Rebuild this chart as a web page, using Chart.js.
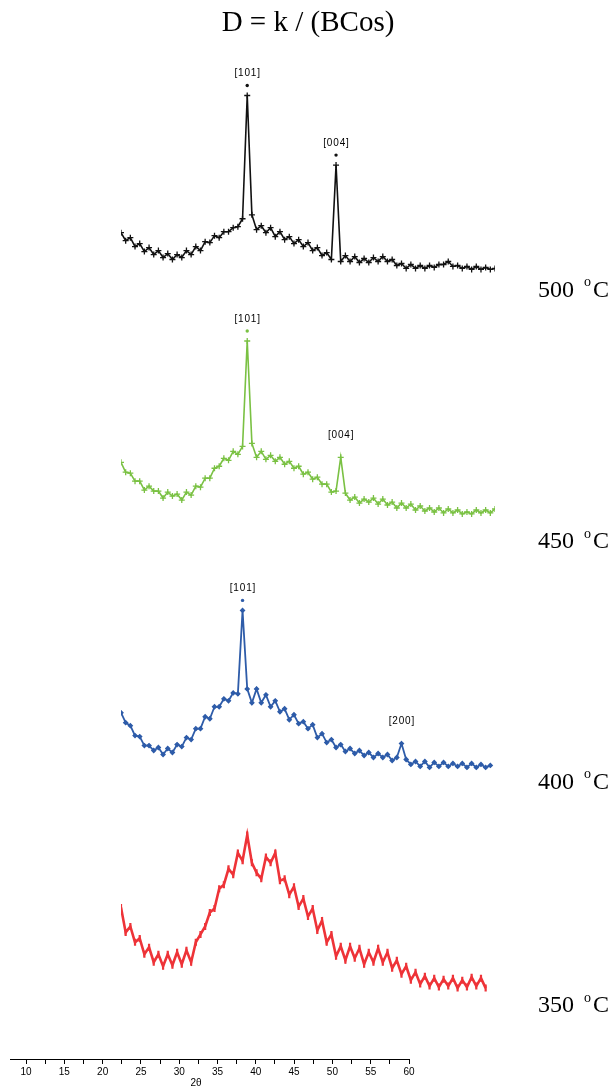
<!DOCTYPE html>
<html>
<head>
<meta charset="utf-8">
<title>XRD patterns</title>
<script src="https://cdn.jsdelivr.net/npm/chart.js@4.4.1/dist/chart.umd.min.js"></script>
<style>
    html, body { margin: 0; padding: 0; background: #ffffff; }
    #page { position: relative; width: 614px; height: 1087px; }
    #xrdWrap { position: absolute; left: 0; top: 0; width: 614px; height: 1040px; }
    #axisWrap { position: absolute; left: 0; top: 1040px; width: 614px; height: 47px; }
</style>
</head>
<body>
<div id="page">
    <div id="xrdWrap"><canvas id="xrdChart"></canvas></div>
    <div id="axisWrap"><canvas id="axisChart"></canvas></div>
</div>
<script>
// 2-theta positions shared by all four scans (degrees).
var angles = [
    20, 20.5, 21, 21.5, 22, 22.5, 23, 23.5, 24, 24.5,
    25, 25.5, 26, 26.5, 27, 27.5, 28, 28.5, 29, 29.5,
    30, 30.5, 31, 31.5, 32, 32.5, 33, 33.5, 34, 34.5,
    35, 35.5, 36, 36.5, 37, 37.5, 38, 38.5, 39, 39.5,
    40, 40.5, 41, 41.5, 42, 42.5, 43, 43.5, 44, 44.5,
    45, 45.5, 46, 46.5, 47, 47.5, 48, 48.5, 49, 49.5,
    50, 50.5, 51, 51.5, 52, 52.5, 53, 53.5, 54, 54.5,
    55, 55.5, 56, 56.5, 57, 57.5, 58, 58.5, 59, 59.5,
    60
];

// Intensities (a.u.), one array per annealing temperature.
var counts500 = [
    38, 30, 33, 24, 27, 19, 23, 16, 20, 13,
    17, 11, 16, 13, 20, 16, 24, 20, 29, 28,
    35, 33, 39, 39, 43, 44, 52, 176, 56, 41,
    45, 38, 43, 34, 39, 31, 34, 27, 31, 24,
    28, 20, 23, 15, 18, 11, 106, 9, 15, 9,
    14, 8, 12, 8, 13, 9, 14, 9, 11, 5,
    7, 2, 6, 2, 5, 2, 5, 3, 6, 6,
    9, 4, 5, 2, 4, 1, 4, 1, 3, 1,
    2
];
var counts450 = [
    53, 43, 42, 34, 34, 25, 29, 24, 24, 17,
    23, 19, 21, 15, 23, 20, 29, 28, 37, 37,
    47, 49, 57, 55, 64, 61, 69, 175, 72, 58,
    64, 56, 60, 54, 58, 51, 54, 47, 49, 41,
    43, 36, 38, 31, 31, 23, 24, 58, 22, 15,
    18, 12, 16, 13, 17, 11, 16, 10, 13, 7,
    12, 7, 11, 5, 9, 4, 7, 3, 7, 2,
    6, 2, 5, 1, 3, 1, 5, 2, 5, 2,
    6
];
var counts400 = [
    56, 46, 43, 33, 32, 23, 23, 18, 21, 14,
    20, 16, 24, 22, 31, 29, 40, 40, 52, 50,
    62, 62, 70, 68, 76, 75, 159, 80, 66, 80,
    66, 74, 62, 68, 57, 60, 49, 54, 45, 47,
    40, 44, 31, 35, 26, 29, 21, 24, 17, 20,
    15, 18, 13, 16, 11, 15, 11, 14, 8, 11,
    25, 9, 4, 7, 2, 7, 1, 6, 2, 6,
    2, 5, 2, 5, 1, 5, 1, 4, 1, 3,
    null
];
var counts350 = [
    85, 60, 66, 50, 54, 38, 45, 30, 38, 26,
    38, 27, 40, 28, 42, 30, 50, 58, 66, 80,
    84, 104, 108, 124, 118, 140, 132, 158, 130, 120,
    114, 136, 130, 140, 112, 114, 98, 106, 86, 94,
    76, 84, 62, 72, 50, 58, 36, 46, 32, 46,
    34, 44, 28, 40, 30, 44, 30, 40, 24, 32,
    18, 26, 12, 20, 8, 16, 6, 14, 5, 13,
    6, 14, 4, 12, 5, 15, 6, 14, 4, null,
    null
];

var temperatures = ["500", "450", "400", "350"];
var seriesCounts = [counts500, counts450, counts400, counts350];
var seriesColors = ["#111111", "#7ac143", "#2e5ca9", "#ee3338"];
// Vertical stacking of the scans (a.u. added to each curve).
var seriesOffsets = [768, 522, 267, 42];

// Reflection labels: series index, 2-theta of the peak, label, dot above peak.
var peakSeries = [0, 0, 1, 1, 2, 2];
var peakAngles = [33.5, 43, 33.5, 43.5, 33, 50];
var peakNames = ["[101]", "[004]", "[101]", "[004]", "[101]", "[200]"];
var peakDots = [true, true, true, false, true, false];

// Bottom 2-theta axis ticks.
var axisTicks = [10, 12.5, 15, 17.5, 20, 22.5, 25, 27.5, 30, 32.5, 35, 37.5,
    40, 42.5, 45, 47.5, 50, 52.5, 55, 57.5, 60];

function buildPoints(counts, offset) {
    return angles.map(function (a, i) {
        return { x: a, y: counts[i] === null ? null : counts[i] + offset };
    });
}

var pointStyles = ["cross", "cross", "rectRot", "line"];
var pointSizes = [3, 3, 2, 3.5];
var lineWidths = [1.6, 1.6, 1.8, 2.6];

var datasets = seriesCounts.map(function (counts, i) {
    return {
        label: temperatures[i] + " °C",
        data: buildPoints(counts, seriesOffsets[i]),
        borderColor: seriesColors[i],
        backgroundColor: seriesColors[i],
        borderWidth: lineWidths[i],
        pointStyle: pointStyles[i],
        pointRadius: pointSizes[i],
        pointRotation: i === 3 ? 90 : 0,
        pointBorderWidth: i === 3 ? 2.2 : 1.3,
        pointBorderColor: seriesColors[i],
        pointBackgroundColor: seriesColors[i],
        tension: 0,
        spanGaps: false
    };
});

// Draws the reflection labels and the temperature captions.
var captionShift = [20, 27, 14, 14];
var annotationPlugin = {
    id: "xrdAnnotations",
    afterDatasetsDraw: function (chart) {
        var ctx = chart.ctx;
        var xs = chart.scales.x;
        var ys = chart.scales.y;
        ctx.save();
        ctx.textAlign = "center";
        ctx.textBaseline = "middle";
        ctx.font = "10px 'Liberation Sans', Arial, sans-serif";
        peakNames.forEach(function (name, j) {
            var s = peakSeries[j];
            var idx = angles.indexOf(peakAngles[j]);
            var px = xs.getPixelForValue(peakAngles[j]);
            var py = ys.getPixelForValue(seriesCounts[s][idx] + seriesOffsets[s]);
            ctx.fillStyle = "#000000";
            ctx.fillText(name.split("").join(String.fromCharCode(8202)), px, py - 22);
            if (peakDots[j]) {
                ctx.fillStyle = seriesColors[s];
                ctx.beginPath();
                ctx.arc(px, py - 10, 1.7, 0, Math.PI * 2);
                ctx.fill();
            }
        });

        // Temperature captions on the right.
        ctx.fillStyle = "#000000";
        ctx.textAlign = "left";
        temperatures.forEach(function (t, i) {
            var y = ys.getPixelForValue(seriesOffsets[i]) + captionShift[i];
            var x = 538;
            ctx.font = "24px 'Liberation Serif', 'Times New Roman', serif";
            ctx.fillText(t, x, y);
            x += ctx.measureText(t).width + 10;
            ctx.font = "14px 'Liberation Serif', 'Times New Roman', serif";
            ctx.fillText("o", x, y - 8);
            x += ctx.measureText("o").width + 2;
            ctx.font = "24px 'Liberation Serif', 'Times New Roman', serif";
            ctx.fillText("C", x, y);
        });
        ctx.restore();
    }
};

new Chart(document.getElementById("xrdChart"), {
    type: "line",
    data: { datasets: datasets },
    options: {
        animation: false,
        responsive: true,
        maintainAspectRatio: false,
        layout: { padding: { left: 121, right: 119, top: 0, bottom: 0 } },
        plugins: {
            legend: { display: false },
            tooltip: { enabled: false },
            title: {
                display: true,
                text: "D = k / (BCos)",
                color: "#000000",
                font: { family: "'Liberation Serif', 'Times New Roman', serif", size: 29, weight: "normal" },
                padding: { top: 6, bottom: 8 }
            }
        },
        scales: {
            x: { type: "linear", min: 20, max: 60, display: false },
            y: { type: "linear", min: 0, max: 991, display: false }
        }
    },
    plugins: [annotationPlugin]
});

// Axis caption placed under the 2-theta scale.
var axisTitlePlugin = {
    id: "axisTitle",
    afterDraw: function (chart) {
        var ctx = chart.ctx;
        var xs = chart.scales.x;
        ctx.save();
        ctx.fillStyle = "#000000";
        ctx.textAlign = "center";
        ctx.textBaseline = "middle";
        ctx.font = "10px 'Liberation Sans', Arial, sans-serif";
        ctx.fillText("2θ", xs.getPixelForValue(32.2), 43);
        ctx.restore();
    }
};

new Chart(document.getElementById("axisChart"), {
    type: "scatter",
    data: { datasets: [] },
    options: {
        animation: false,
        responsive: true,
        maintainAspectRatio: false,
        layout: { padding: { left: 10, right: 205, top: 0, bottom: 9 } },
        plugins: { legend: { display: false }, tooltip: { enabled: false } },
        scales: {
            x: {
                type: "linear",
                min: 7.9,
                max: 60,
                afterBuildTicks: function (scale) {
                    scale.ticks = axisTicks.map(function (v) { return { value: v }; });
                },
                ticks: {
                    autoSkip: false,
                    maxRotation: 0,
                    padding: 2,
                    color: "#000000",
                    font: { family: "'Liberation Sans', Arial, sans-serif", size: 10 },
                    callback: function (v) { return v % 5 === 0 ? String(v) : ""; }
                },
                grid: {
                    drawOnChartArea: false,
                    drawTicks: true,
                    tickLength: 5,
                    tickColor: "#000000",
                    tickWidth: 1
                },
                border: { display: true, color: "#000000", width: 1 }
            },
            y: { display: false }
        }
    },
    plugins: [axisTitlePlugin]
});
</script>
</body>
</html>
